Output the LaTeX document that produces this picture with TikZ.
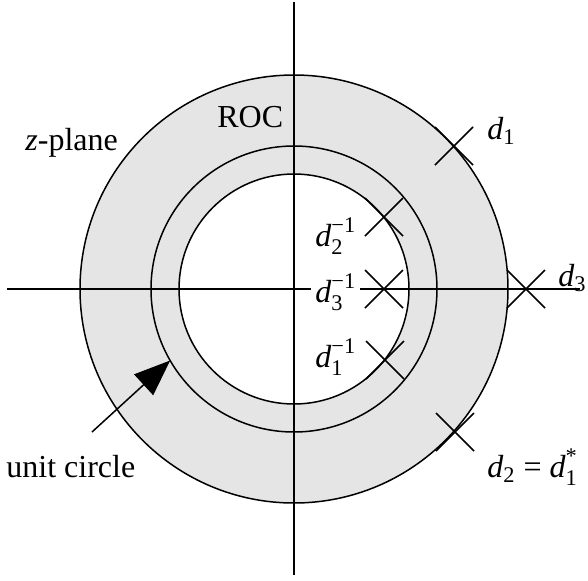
\documentclass[tikz,border=0pt]{standalone}
\usepackage{amsmath}
\usepackage{fontspec}
\setmainfont{Liberation Serif}
\usepackage{tikz}
\usetikzlibrary{
  arrows.meta,
}
\definecolor{rocgray}{HTML}{E5E5E5}
\definecolor{ink}{HTML}{000000}
\tikzset{
  >=Stealth,
  font=\fontsize{16}{19}\selectfont,
  every node/.append style={text=ink},
  ring/.style={draw=ink, line width=0.75pt},
  axis/.style={draw=ink, line width=0.75pt},
  tag/.style={anchor=base west, inner sep=0pt},
  pointer/.style={draw=ink, line width=0.75pt, -{Triangle[length=18pt,width=14pt]}},
  pics/crossmark/.style={
    code={
      \draw[ink, line width=0.75pt] (-19,-19) -- (19,19) (-19,19) -- (19,-19);
    }
  },
}

\begin{document}
\begin{tikzpicture}[x=0.5pt,y=0.5pt]
  \useasboundingbox (-294,-291) rectangle (294,289);

  % region of convergence
  \fill[rocgray] (0,0) circle (214);
  \fill[white] (0,0) circle (115);
  \foreach \r in {214,143,115} {
    \draw[ring] (0,0) circle (\r);
  }

  % axes
  \draw[axis] (-287,0) -- (286,0);
  \draw[axis] (0,287) -- (0,-286);

  \node[tag] (roc) at (-77,162) {ROC};
  \node[tag] (zplane) at (-269,139) {\textit{z}-plane};
  \node[tag] (d1) at (193,150) {$\textit{d}_{\text{1}}$};
  \node[tag] (d2inv) at (21,43) {$\textit{d}_{\text{2}}^{\text{−1}}$};
  \node[tag, fill=white, inner sep=2pt] (d3inv) at (17,-13) {$\textit{d}_{\text{3}}^{\text{−1}}$};
  \node[tag] (d1inv) at (21,-78) {$\textit{d}_{\text{1}}^{\text{−1}}$};
  \node[tag] (d3) at (264,3) {$\textit{d}_{\text{3}}$};
  \node[tag] (d2) at (193,-188) {$\textit{d}_{\text{2}}$ = $\textit{d}_{\text{1}}^{\text{*}}$};
  \node[tag] (unit) at (-288,-188) {unit circle};

  % zeros
  \foreach \x/\y in {160/143, 232/0, 90/0, 90/72, 91/-71, 161/-143} {
    \pic at (\x,\y) {crossmark};
  }

  \coordinate (tail) at (-202,-143);
  \coordinate (unittip) at (210:143);
  \draw[pointer] (tail) -- (unittip);
\end{tikzpicture}
\end{document}
